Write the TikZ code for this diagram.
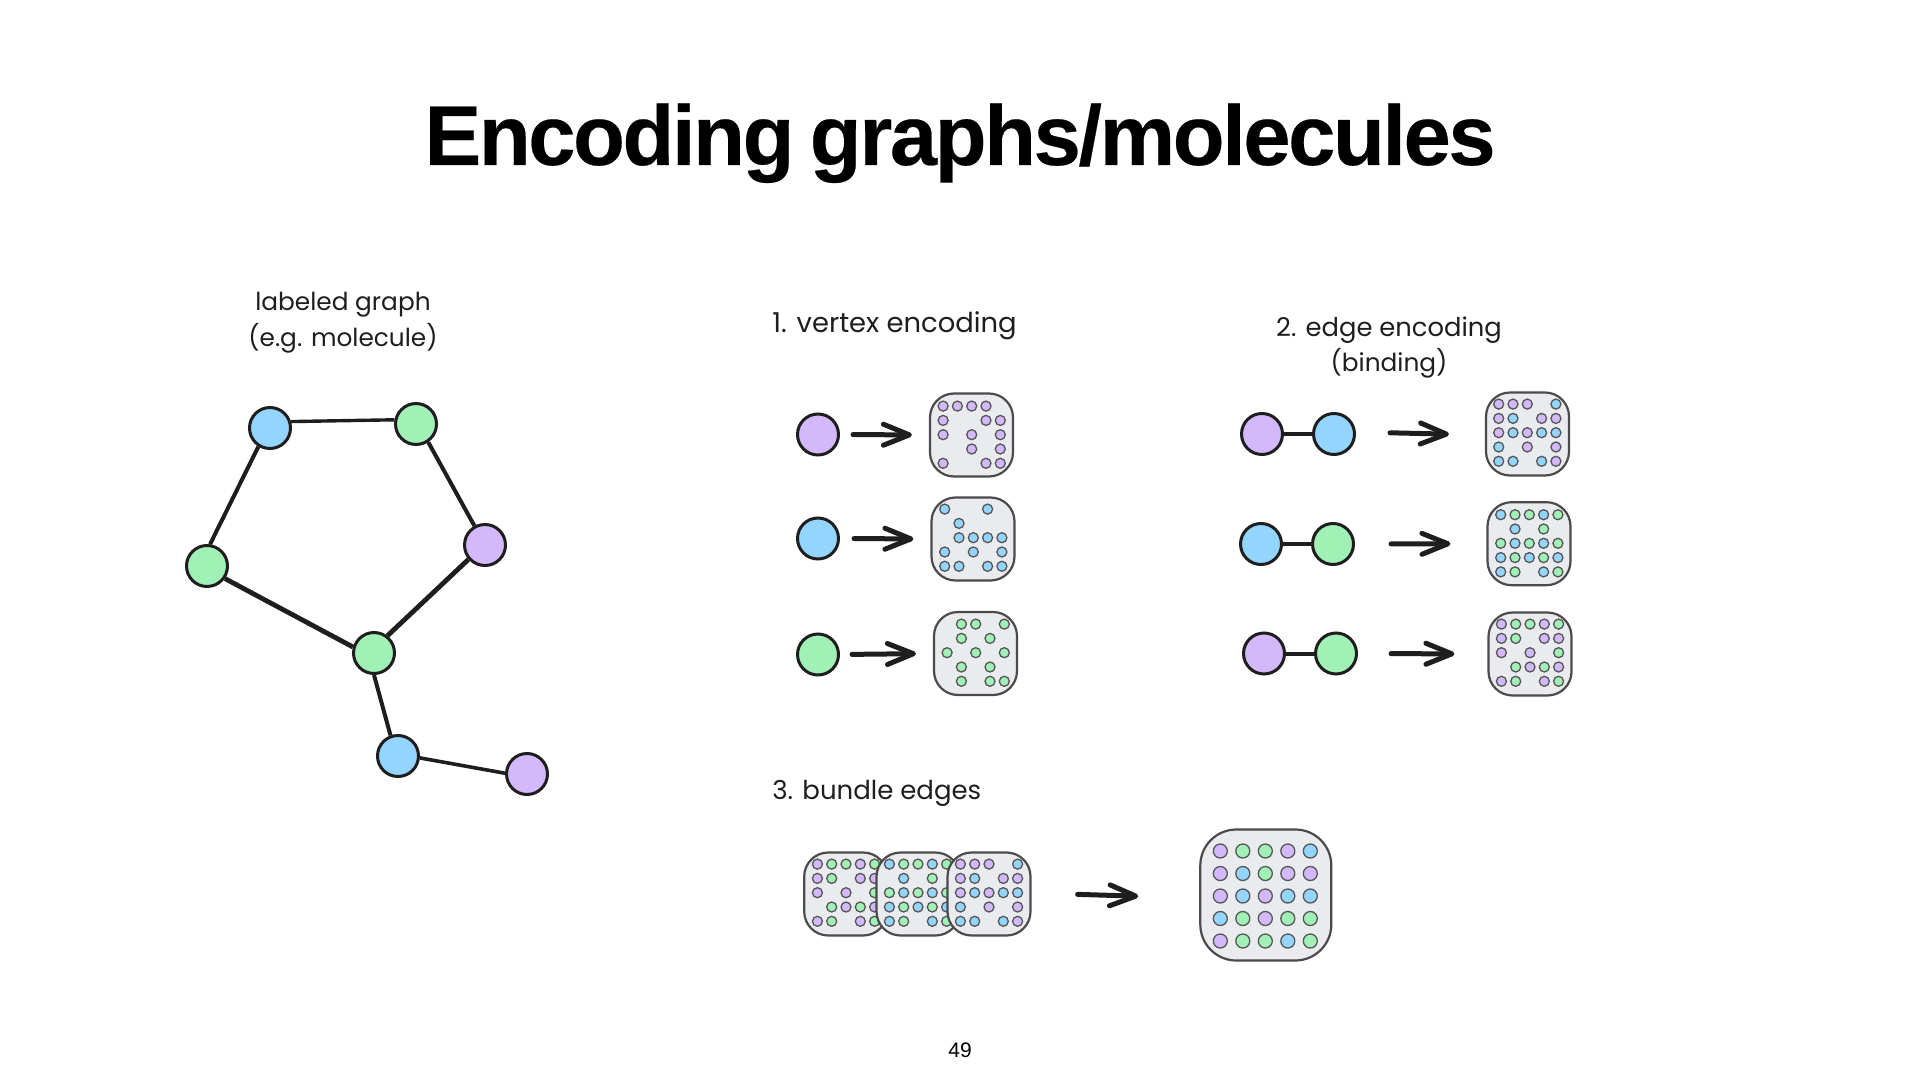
\documentclass[tikz,border=0pt]{standalone}
\usepackage{fontspec}
\setmainfont{Poppins}
\newfontfamily\titlefont[LetterSpace=-2.9,WordSpace=0.72,FakeBold=0.25]{Liberation Sans}
\newfontfamily\numfont{Liberation Sans}
\usetikzlibrary{arrows.meta}
\definecolor{dotP}{HTML}{D3B9FC}
\definecolor{dotB}{HTML}{93D5FF}
\definecolor{dotG}{HTML}{A1F0B5}
\definecolor{ink}{HTML}{1E1E1E}
\definecolor{tilefill}{HTML}{E9EBEE}
\tikzset{
  atom/.style={circle,draw=ink,line width=1.5pt,minimum size=20.5pt,inner sep=0pt},
  tilebox/.style={rectangle,draw=ink!80,fill=tilefill,line width=1.1pt,rounded corners=12pt,inner sep=0pt,minimum size=41.5pt},
  griddot/.style={draw=ink!75,line width=0.65pt},
  bond/.style={draw=ink,line width=2pt},
  skarrow/.style={draw=ink,line width=2.5pt,line cap=round,-{Straight Barb[length=13pt,width=10.5pt,line width=2.5pt,round]}},
  hand/.style={inner sep=0pt,font=\fontsize{12.4}{14}\selectfont,text=ink},
}
\newcommand{\dotgrid}[5]{%
  \foreach \rowlist [count=\dj] in #5 {%
    \foreach \dotc [count=\di] in \rowlist {%
      \if\dotc N\else
        \path[griddot,fill=dot\dotc] ({#1+(\di-3)*#3},{#2+(\dj-3)*#3}) circle[radius=#4];
      \fi
    }%
  }%
}
\newcommand{\tile}[6]{% name, cx, cy, dot cx, dot cy, rows
  \node[tilebox] (#1) at (#2,#3) {};
  \dotgrid{#4}{#5}{14.3}{5}{#6}%
}
\def\rowsVP{{P,P,P,P,N},{P,N,N,P,P},{P,N,P,N,P},{N,N,P,N,P},{P,N,N,P,P}}
\def\rowsVB{{B,N,N,B,N},{N,B,N,N,N},{N,B,B,B,B},{B,N,B,N,B},{B,B,N,B,B}}
\def\rowsVG{{N,G,G,N,G},{N,G,N,G,N},{G,N,G,N,G},{N,G,N,G,N},{N,G,N,G,G}}
\def\rowsPB{{P,P,P,N,B},{P,B,N,P,P},{P,B,P,B,B},{B,N,P,N,P},{B,B,N,B,P}}
\def\rowsBG{{B,G,G,B,G},{N,B,N,G,N},{G,B,G,B,G},{B,G,B,G,B},{B,G,N,B,G}}
\def\rowsPG{{P,G,G,P,G},{P,G,N,P,P},{P,N,P,N,G},{N,G,P,G,P},{P,G,N,P,G}}
\def\rowsAll{{P,G,G,P,B},{P,B,G,P,P},{P,B,P,B,B},{B,G,P,G,G},{P,G,G,B,G}}
\begin{document}
\begin{tikzpicture}[x=0.5pt,y=-0.5pt]
\useasboundingbox (0,0) rectangle (1920,1080);
% title and page number
\node[inner sep=0pt,anchor=base,font=\titlefont\bfseries\fontsize{42.5}{50}\selectfont,text=black] (title) at (960,165) {Encoding graphs/molecules};
\node[inner sep=0pt,font=\numfont\fontsize{10.5}{12}\selectfont,text=black] (pagenum) at (960,1050) {49};
% labels
\node[hand] (lab1) at (343,305) {labeled graph};
\node[hand] (lab2) at (343,338) {(e.g. molecule)};
\node[hand,anchor=west,font=\fontsize{13.7}{15}\selectfont] (lab3) at (772,326) {1. vertex encoding};
\node[hand,font=\fontsize{12.9}{15}\selectfont] (lab4) at (1389,330) {2. edge encoding};
\node[hand] (lab5) at (1389,363) {(binding)};
\node[hand,anchor=west,font=\fontsize{13}{15}\selectfont] (lab6) at (772,793) {3. bundle edges};
% graph
\node[atom,fill=dotB] (gb1) at (270,428) {};
\node[atom,fill=dotG] (gg1) at (416,424) {};
\node[atom,fill=dotP] (gp1) at (485,545) {};
\node[atom,fill=dotG] (gg2) at (207,566) {};
\node[atom,fill=dotG] (gg3) at (374,653) {};
\node[atom,fill=dotB] (gb2) at (398,756) {};
\node[atom,fill=dotP] (gp2) at (527,774) {};
\draw[bond,line width=1.7pt] (gb1.17) -- (gg1.169);
\draw[bond] (gg1.304) -- (gp1.119);
\draw[bond] (gb1.238) -- (gg2.82);
\draw[bond,line width=2.4pt] (gp1.221) -- (gg3.52);
\draw[bond,line width=2.4pt] (gg2.325) -- (gg3.164);
\draw[bond] (gg3.270) -- (gb2.110);
\draw[bond,line width=1.8pt] (gb2.355) -- (gp2.178);
% vertex encoding
\node[atom,fill=dotP] (v1) at (818,434.5) {};
\node[atom,fill=dotB] (v2) at (818,538.5) {};
\node[atom,fill=dotG] (v3) at (818,654.5) {};
\tile{tv1}{971.5}{435}{971.7}{434.7}{\rowsVP}
\tile{tv2}{973}{539}{973.3}{537.7}{\rowsVB}
\tile{tv3}{975.5}{653.5}{975.7}{652.7}{\rowsVG}
\draw[skarrow,shorten <=6.5pt,shorten >=8.5pt] (v1.east) -- (tv1.west);
\draw[skarrow,shorten <=7pt,shorten >=8.5pt] (v2.east) -- (tv2.west);
\draw[skarrow,shorten <=6pt,shorten >=8.5pt] (v3.east) -- (tv3.west);
% edge encoding
\node[atom,fill=dotP] (e1a) at (1262,434) {};
\node[atom,fill=dotB] (e1b) at (1334,434) {};
\node[atom,fill=dotB] (e2a) at (1261,544) {};
\node[atom,fill=dotG] (e2b) at (1333,544) {};
\node[atom,fill=dotP] (e3a) at (1264,653.5) {};
\node[atom,fill=dotG] (e3b) at (1336,653.5) {};
\draw[bond] (e1a) -- (e1b);
\draw[bond] (e2a) -- (e2b);
\draw[bond] (e3a) -- (e3b);
\tile{te1}{1527.5}{434}{1527.3}{432.7}{\rowsPB}
\tile{te2}{1529}{543.7}{1529.3}{543.3}{\rowsBG}
\tile{te3}{1530}{654}{1530}{652.7}{\rowsPG}
\draw[skarrow,shorten <=17pt,shorten >=18pt] ([yshift=1pt]e1b.east) -- ([yshift=-0.5pt]te1.west);
\draw[skarrow,shorten <=18pt,shorten >=18pt] (e2b.east) -- (te2.west);
\draw[skarrow,shorten <=16.5pt,shorten >=16.5pt] (e3b.east) -- (te3.west);
% bundle
\tile{ba}{845.7}{894}{846}{892.7}{\rowsPG}
\tile{bb}{918}{894}{918}{892.7}{\rowsBG}
\tile{bc}{989}{894}{989}{892.7}{\rowsPB}
\node[tilebox,minimum size=65.5pt,rounded corners=18pt] (big) at (1265.8,895) {};
\dotgrid{1265.3}{896}{22.5}{7}{\rowsAll}
\draw[skarrow,shorten <=23pt,shorten >=30.5pt] ([yshift=0.5pt]bc.east) -- ([yshift=-1.5pt]big.west);
\end{tikzpicture}
\end{document}
